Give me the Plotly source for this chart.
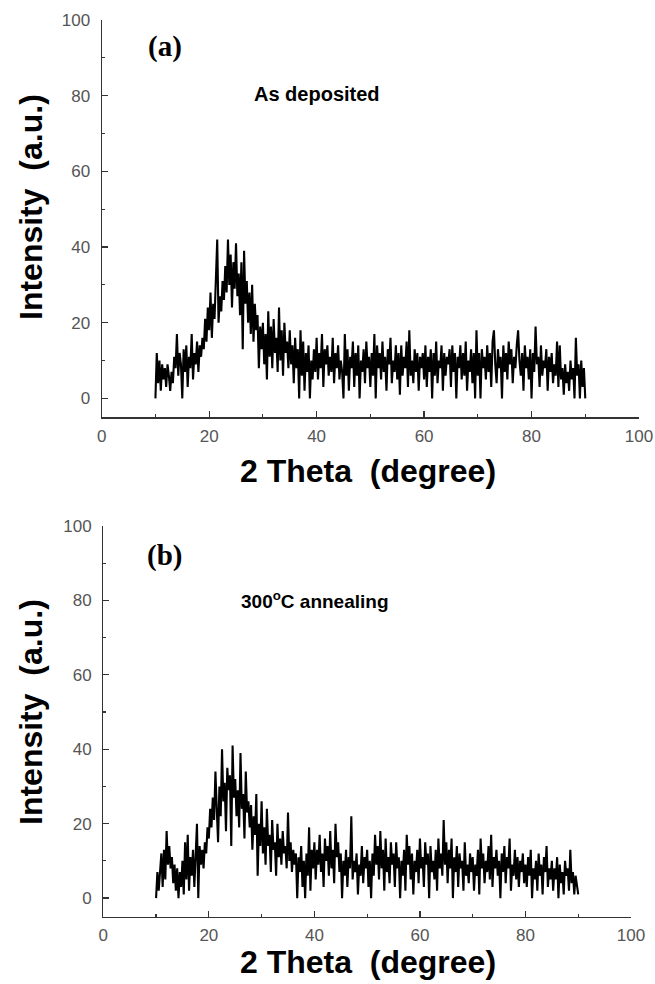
import plotly.graph_objects as go

# 2-theta grid: 10 to 90 degrees, 0.25 degree step
THETA_START = 10.0
THETA_STEP = 0.25

# (a) As deposited - intensity (a.u.), 20 values per 5 degrees
intensity_a = [
    0, 12, 4, 10, 2, 9, 5, 8, 3, 9, 6, 2, 7, 4, 11, 8, 17, 6, 12, 9,          # 10-14.75
    0, 13, 7, 14, 3, 11, 8, 17, 5, 12, 9, 15, 7, 14, 11, 16, 13, 21, 15, 24,  # 15-19.75
    18, 28, 16, 25, 21, 30, 42, 20, 27, 23, 31, 26, 35, 28, 42, 30, 38, 24, 36, 29,  # 20-24.75
    41, 27, 33, 22, 36, 13, 39, 25, 31, 20, 28, 17, 30, 15, 25, 18, 22, 8, 19, 13,   # 25-29.75
    20, 9, 17, 5, 23, 11, 19, 8, 21, 12, 16, 7, 24, 10, 18, 6, 20, 12, 15, 8,  # 30-34.75
    18, 9, 14, 4, 16, 8, 13, 0, 18, 6, 15, 2, 12, 7, 14, 0, 10, 5, 13, 7,     # 35-39.75
    16, 5, 12, 8, 17, 3, 13, 9, 14, 6, 11, 7, 16, 4, 12, 8, 14, 5, 10, 7,     # 40-44.75
    0, 17, 6, 13, 2, 11, 8, 15, 3, 12, 6, 14, 0, 10, 7, 13, 4, 15, 8, 11,     # 45-49.75
    3, 12, 6, 17, 0, 14, 8, 12, 5, 15, 7, 11, 2, 13, 9, 16, 4, 10, 7, 14,     # 50-54.75
    5, 12, 1, 14, 6, 11, 8, 15, 3, 18, 6, 10, 4, 13, 7, 12, 2, 11, 8, 12,     # 55-59.75
    5, 14, 3, 11, 7, 13, 0, 12, 6, 15, 4, 10, 8, 14, 2, 12, 6, 11, 9, 13,     # 60-64.75
    3, 14, 7, 12, 0, 11, 8, 14, 5, 12, 6, 15, 2, 10, 7, 13, 4, 12, 0, 18,     # 65-69.75
    6, 12, 0, 13, 8, 11, 5, 14, 7, 12, 3, 15, 18, 9, 4, 13, 8, 11, 0, 14,     # 70-74.75
    7, 12, 5, 15, 9, 13, 4, 11, 8, 14, 18, 10, 6, 12, 2, 14, 8, 11, 5, 13,    # 75-79.75
    0, 12, 7, 19, 9, 11, 3, 14, 6, 10, 8, 13, 2, 11, 7, 12, 4, 9, 6, 15,      # 80-84.75
    3, 14, 5, 8, 1, 9, 4, 7, 2, 10, 5, 8, 0, 16, 6, 9, 0, 10, 3, 8,           # 85-89.75
    0,                                                                         # 90
]

# (b) 300 C annealing - intensity (a.u.)
intensity_b = [
    0, 7, 2, 6, 12, 3, 13, 5, 18, 9, 14, 8, 11, 4, 9, 2, 8, 0, 7, 3,          # 10-14.75
    10, 1, 15, 5, 17, 2, 11, 6, 13, 3, 12, 20, 0, 14, 9, 13, 8, 15, 12, 19,   # 15-19.75
    16, 24, 19, 27, 21, 34, 24, 15, 30, 22, 40, 26, 31, 18, 35, 29, 33, 14, 41, 27,  # 20-24.75
    32, 22, 29, 19, 39, 24, 28, 16, 34, 23, 26, 19, 25, 13, 22, 17, 28, 6, 20, 14,   # 25-29.75
    26, 12, 19, 9, 24, 14, 17, 7, 21, 13, 15, 6, 20, 11, 16, 9, 18, 12, 14, 8,  # 30-34.75
    23, 10, 15, 7, 13, 9, 12, 0, 11, 7, 14, 3, 10, 0, 12, 6, 19, 2, 13, 8,    # 35-39.75
    15, 5, 13, 9, 17, 7, 12, 3, 16, 10, 14, 6, 18, 8, 13, 4, 20, 11, 15, 7,   # 40-44.75
    12, 0, 10, 6, 13, 3, 11, 8, 22, 5, 10, 7, 12, 1, 9, 6, 14, 4, 11, 8,      # 45-49.75
    13, 3, 10, 0, 12, 6, 17, 9, 14, 5, 18, 8, 13, 2, 16, 7, 11, 4, 15, 9,     # 50-54.75
    12, 3, 15, 8, 11, 0, 10, 6, 13, 2, 17, 9, 14, 5, 12, 1, 10, 7, 13, 4,     # 55-59.75
    16, 8, 11, 3, 15, 9, 12, 0, 14, 7, 10, 5, 13, 2, 16, 8, 12, 6, 21, 9,     # 60-64.75
    15, 4, 13, 8, 16, 0, 11, 7, 14, 3, 12, 8, 10, 2, 15, 6, 9, 4, 12, 7,      # 65-69.75
    11, 2, 9, 6, 13, 1, 16, 8, 12, 4, 10, 7, 14, 5, 17, 3, 11, 8, 13, 6,      # 70-74.75
    10, 0, 12, 7, 14, 4, 11, 8, 16, 2, 9, 6, 13, 5, 11, 3, 10, 7, 12, 4,      # 75-79.75
    9, 3, 11, 6, 13, 0, 8, 5, 10, 2, 12, 6, 9, 1, 11, 7, 14, 3, 8, 5,         # 80-84.75
    10, 2, 8, 5, 11, 0, 9, 4, 7, 1, 10, 6, 8, 2, 13, 4, 7, 1, 6, 3,           # 85-89.75
    1,                                                                         # 90
]

theta_a = [THETA_START + THETA_STEP * i for i in range(len(intensity_a))]
theta_b = [THETA_START + THETA_STEP * i for i in range(len(intensity_b))]

panel_labels = ["(a)", "(b)"]
sample_labels = ["As deposited", "300<sup>o</sup>C annealing"]
x_title = "2 Theta  (degree)"
y_title = "Intensity  (a.u.)"

W, H = 655, 984
SANS = "Liberation Sans, Arial, Helvetica, sans-serif"
SERIF = "Liberation Serif, Times New Roman, serif"

fig = go.Figure()
fig.add_trace(go.Scatter(x=theta_a, y=intensity_a, mode="lines",
                         line=dict(color="black", width=2.1), xaxis="x", yaxis="y",
                         showlegend=False))
fig.add_trace(go.Scatter(x=theta_b, y=intensity_b, mode="lines",
                         line=dict(color="black", width=2.1), xaxis="x2", yaxis="y2",
                         showlegend=False))

def axis(rng, dom, anchor, standoff):
    return dict(range=rng, domain=dom, anchor=anchor, tick0=0, dtick=20,
                ticks="inside", ticklen=6, tickwidth=1.2, tickcolor="#333",
                showline=True, linecolor="#333", linewidth=1.2,
                showgrid=False, zeroline=False, ticklabelstandoff=standoff,
                automargin=False,
                tickfont=dict(family=SANS, size=17, color="#555"),
                minor=dict(dtick=10, tick0=0, ticks="inside", ticklen=3,
                           tickwidth=1.2, tickcolor="#333", showgrid=False))

# pixel geometry -> paper coords
def px(x):
    return x / W

def py(y):
    return 1 - y / H

fig.update_layout(
    width=W, height=H, autosize=False,
    margin=dict(l=0, r=0, t=0, b=0, autoexpand=False),
    paper_bgcolor="white", plot_bgcolor="white",
    xaxis=axis([0, 100], [px(101.7), px(639)], "y", 3),
    yaxis=axis([-5, 100], [py(417.3), py(20)], "x", 7),
    xaxis2=axis([0, 100], [px(103.3), px(631)], "y2", 3),
    yaxis2=axis([-5, 100], [py(916.7), py(526)], "x2", 7),
)

ann = []
for (xc, yc) in [(368, 471), (368, 962)]:
    ann.append(dict(text="<b>" + x_title + "</b>", x=px(xc), y=py(yc),
                    xref="paper", yref="paper",
                    showarrow=False, xanchor="center", yanchor="middle",
                    font=dict(family=SANS, size=32, color="black")))
for (xc, yc) in [(31, 207), (31, 712)]:
    ann.append(dict(text="<b>" + y_title + "</b>", x=px(xc), y=py(yc),
                    xref="paper", yref="paper",
                    showarrow=False, xanchor="center", yanchor="middle", textangle=-90,
                    font=dict(family=SANS, size=32, color="black")))
for lab, (xc, yc) in zip(panel_labels, [(165, 46), (165, 555)]):
    ann.append(dict(text="<b>" + lab + "</b>", x=px(xc), y=py(yc),
                    xref="paper", yref="paper",
                    showarrow=False, xanchor="center", yanchor="middle",
                    font=dict(family=SERIF, size=29, color="black")))
for lab, (xc, yc), fs in zip(sample_labels, [(317, 94), (315, 600)], [20, 19]):
    ann.append(dict(text="<b>" + lab + "</b>", x=px(xc), y=py(yc),
                    xref="paper", yref="paper",
                    showarrow=False, xanchor="center", yanchor="middle",
                    font=dict(family=SANS, size=fs, color="black")))
fig.update_layout(annotations=ann)

fig.write_html("out.html",
               config={"displayModeBar": False, "staticPlot": True},
               post_script="document.body.style.margin='0px';document.body.style.overflow='hidden';")
